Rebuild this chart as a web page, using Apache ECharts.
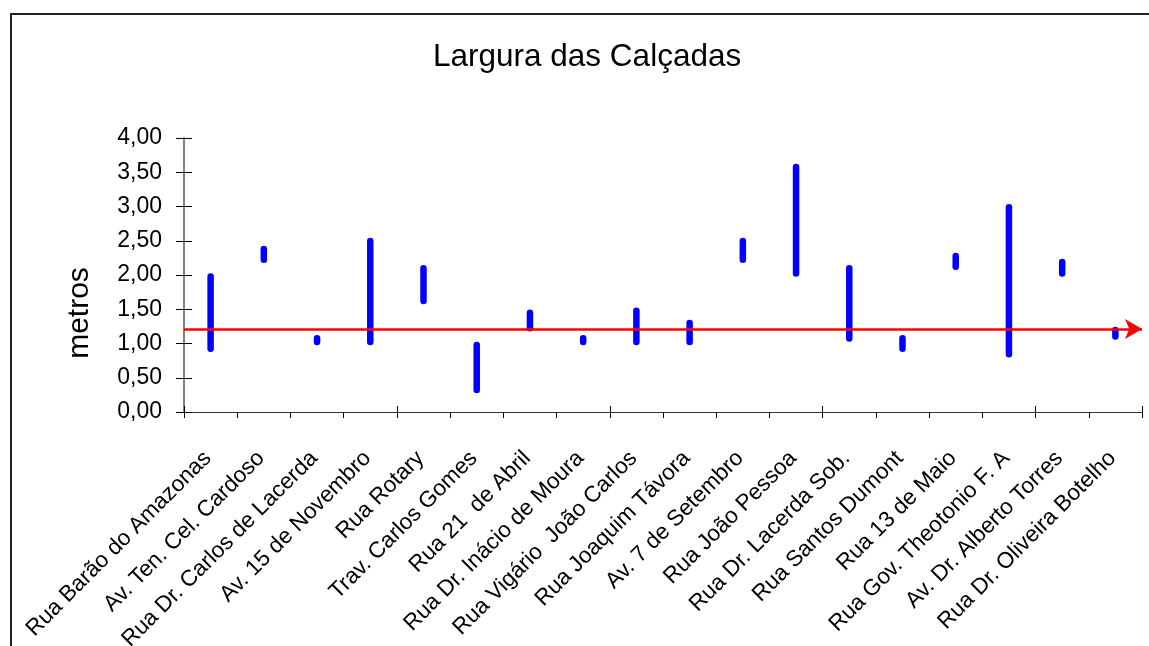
<!DOCTYPE html>
<html>
<head>
<meta charset="utf-8">
<script src="https://cdn.jsdelivr.net/npm/echarts@6/dist/echarts.min.js"></script>
<style>
  html, body { margin: 0; padding: 0; background: #fff; }
  #main { width: 1149px; height: 646px; }
</style>
</head>
<body>
<div id="main"></div>
<script>
// Street names (x axis)
const categories = [
  'Rua Barão do Amazonas', 'Av. Ten. Cel. Cardoso', 'Rua Dr. Carlos de Lacerda',
  'Av. 15 de Novembro', 'Rua Rotary', 'Trav. Carlos Gomes', 'Rua 21  de Abril',
  'Rua Dr. Inácio de Moura', 'Rua Vigário  João Carlos', 'Rua Joaquim Távora',
  'Av. 7 de Setembro', 'Rua João Pessoa', 'Rua Dr. Lacerda Sob.', 'Rua Santos Dumont',
  'Rua 13 de Maio', 'Rua Gov. Theotonio F. A', 'Av. Dr. Alberto Torres', 'Rua Dr. Oliveira Botelho'
];
// min and max sidewalk width per street (metros)
const minWidth = [0.90, 2.20, 1.00, 1.00, 1.60, 0.30, 1.20, 1.00, 1.00, 1.00, 2.20, 2.00, 1.05, 0.90, 2.10, 0.82, 2.00, 1.08];
const maxWidth = [2.00, 2.40, 1.10, 2.52, 2.12, 1.00, 1.47, 1.10, 1.50, 1.32, 2.52, 3.60, 2.12, 1.10, 2.30, 3.01, 2.21, 1.22];
// reference width (red arrow)
const referenceWidth = 1.21;
const yTicks = { min: 0, max: 4, interval: 0.5 };

const FONT = "'Liberation Sans', Arial, sans-serif";

const rangeData = categories.map((c, i) => [i, minWidth[i], maxWidth[i]]);

const chart = echarts.init(document.getElementById('main'));

const option = {
  animation: false,
  backgroundColor: '#fff',
  textStyle: { fontFamily: FONT },
  title: {
    text: 'Largura das Calçadas',
    left: 428,
    top: 36,
    textStyle: { fontFamily: FONT, fontSize: 31.5, fontWeight: 'normal', color: '#000' }
  },
  graphic: [{
    type: 'rect',
    shape: { x: 11, y: 14, width: 1300, height: 800 },
    style: { fill: 'none', stroke: '#222', lineWidth: 2 },
    silent: true
  }, {
    // y axis title, sits lower than the axis middle in the original
    type: 'text',
    x: 80,
    y: 313,
    rotation: Math.PI / 2,
    style: {
      text: 'metros', fontFamily: FONT, fontSize: 30, fill: '#000',
      align: 'center', verticalAlign: 'middle'
    },
    silent: true
  }],
  grid: { left: 184, right: 7, top: 138, bottom: 234, outerBoundsMode: 'none' },
  xAxis: [{
    type: 'category',
    data: categories,
    boundaryGap: true,
    axisLine: { lineStyle: { color: '#333', width: 1 } },
    axisTick: { show: true, inside: false, length: 6, lineStyle: { color: '#000' } },
    axisLabel: {
      rotate: 45, interval: 0, margin: 40,
      padding: [0, 4, 18, 0],
      fontFamily: FONT, fontSize: 22.5, color: '#000'
    }
  }, {
    type: 'category',
    data: categories,
    position: 'bottom',
    boundaryGap: true,
    axisLine: { show: false },
    axisTick: { show: true, inside: true, length: 6, lineStyle: { color: '#000' } },
    axisLabel: { show: false }
  }],
  yAxis: [{
    type: 'value',
    min: yTicks.min,
    max: yTicks.max,
    interval: yTicks.interval,
    splitLine: { show: false },
    axisLine: { show: true, lineStyle: { color: '#808080', width: 2 } },
    axisTick: { show: true, inside: false, length: 8, lineStyle: { color: '#000' } },
    axisLabel: {
      margin: 22, fontFamily: FONT, fontSize: 23, color: '#000',
      formatter: v => v.toFixed(2).replace('.', ',')
    }
  }, {
    type: 'value',
    position: 'left',
    min: yTicks.min,
    max: yTicks.max,
    interval: yTicks.interval,
    splitLine: { show: false },
    axisLine: { show: false },
    axisTick: { show: true, inside: true, length: 8, lineStyle: { color: '#000' } },
    axisLabel: { show: false }
  }],
  series: [{
    type: 'custom',
    data: rangeData,
    encode: { x: 0, y: [1, 2] },
    renderItem: function (params, api) {
      const p1 = api.coord([api.value(0), api.value(1)]);
      const p2 = api.coord([api.value(0), api.value(2)]);
      return {
        type: 'line',
        shape: { x1: p1[0], y1: p1[1] - 1.5, x2: p2[0], y2: p2[1] + 1.5 },
        style: { stroke: '#0000ff', lineWidth: 6.5, lineCap: 'round' }
      };
    },
    markLine: {
      silent: true,
      symbol: ['none', 'arrow'],
      symbolSize: [15, 17],
      label: { show: false },
      lineStyle: { color: '#ff0000', width: 2.5, type: 'solid' },
      data: [{ yAxis: referenceWidth }]
    }
  }]
};

option && chart.setOption(option);
</script>
</body>
</html>
